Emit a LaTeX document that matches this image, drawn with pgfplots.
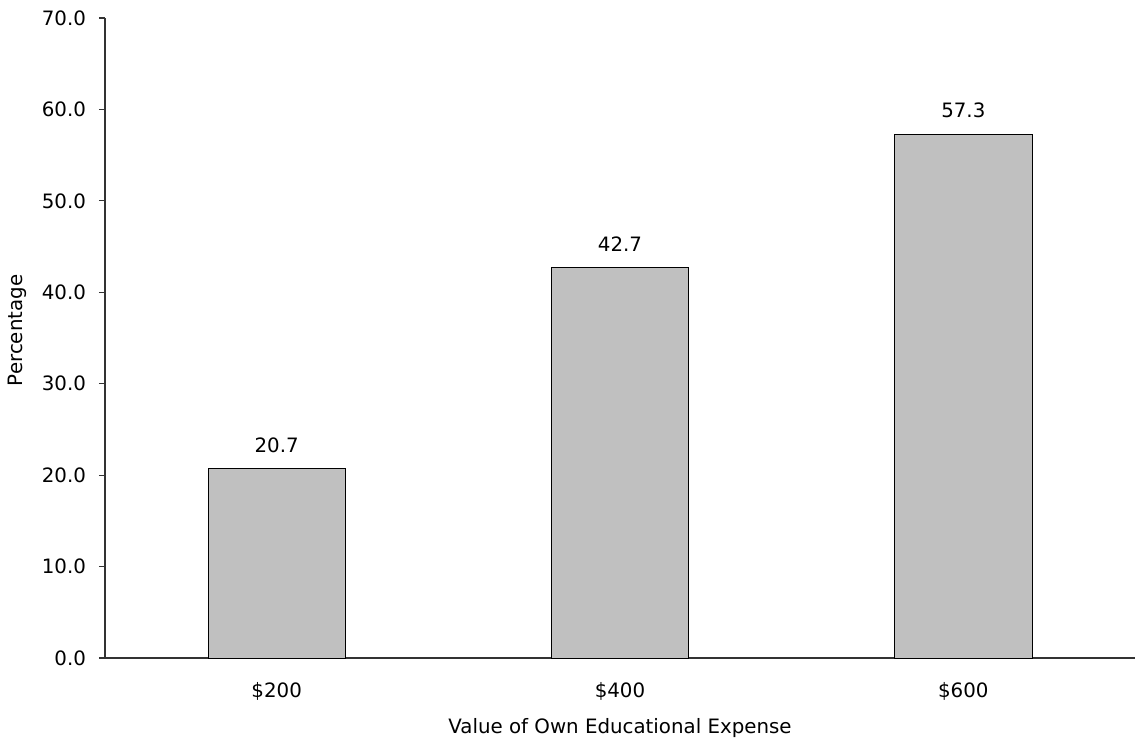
\documentclass[border=0pt]{standalone}
\usepackage{fontspec}
\setmainfont{DejaVu Sans}
\usepackage{pgfplots}
\pgfplotsset{compat=1.18}
\begin{document}
\begin{tikzpicture}[font=\fontsize{9.9}{11.5}\selectfont]
\path[use as bounding box] (-52.5pt,-41pt) rectangle (515pt,329pt);
\begin{axis}[
  at={(0,0)}, anchor=south west,
  scale only axis, width=515pt, height=320pt,
  xmin=-0.5, xmax=2.5, ymin=0, ymax=70,
  axis lines*=left,
  axis line style={draw=black!80, line width=0.6pt},
  xtick=data, xticklabels={\$200,\$400,\$600},
  xtick style={draw=none},
  ytick={0,10,...,70},
  tick align=outside, major tick length=3pt,
  ytick style={draw=black!80, line width=0.6pt},
  /pgf/number format/assume math mode=true,
  y tick label style={/pgf/number format/fixed, /pgf/number format/zerofill, /pgf/number format/precision=1},
  yticklabel style={xshift=-3pt},
  xticklabel style={yshift=-5.5pt},
  ylabel={Percentage},
  ylabel style={at={(axis description cs:-0.0854,0.512)}, anchor=center},
  xlabel={Value of Own Educational Expense},
  xlabel style={at={(axis description cs:0.5,0)}, anchor=center, yshift=-35pt},
  ybar, bar width=0.4,
  nodes near coords,
  nodes near coords style={/pgf/number format/fixed, /pgf/number format/zerofill, /pgf/number format/precision=1, yshift=4.5pt},
]
\addplot[fill={rgb,255:red,192;green,192;blue,192}, draw=black, line width=0.5pt] coordinates {(0,20.7) (1,42.7) (2,57.3)};
\end{axis}
\end{tikzpicture}
\end{document}
